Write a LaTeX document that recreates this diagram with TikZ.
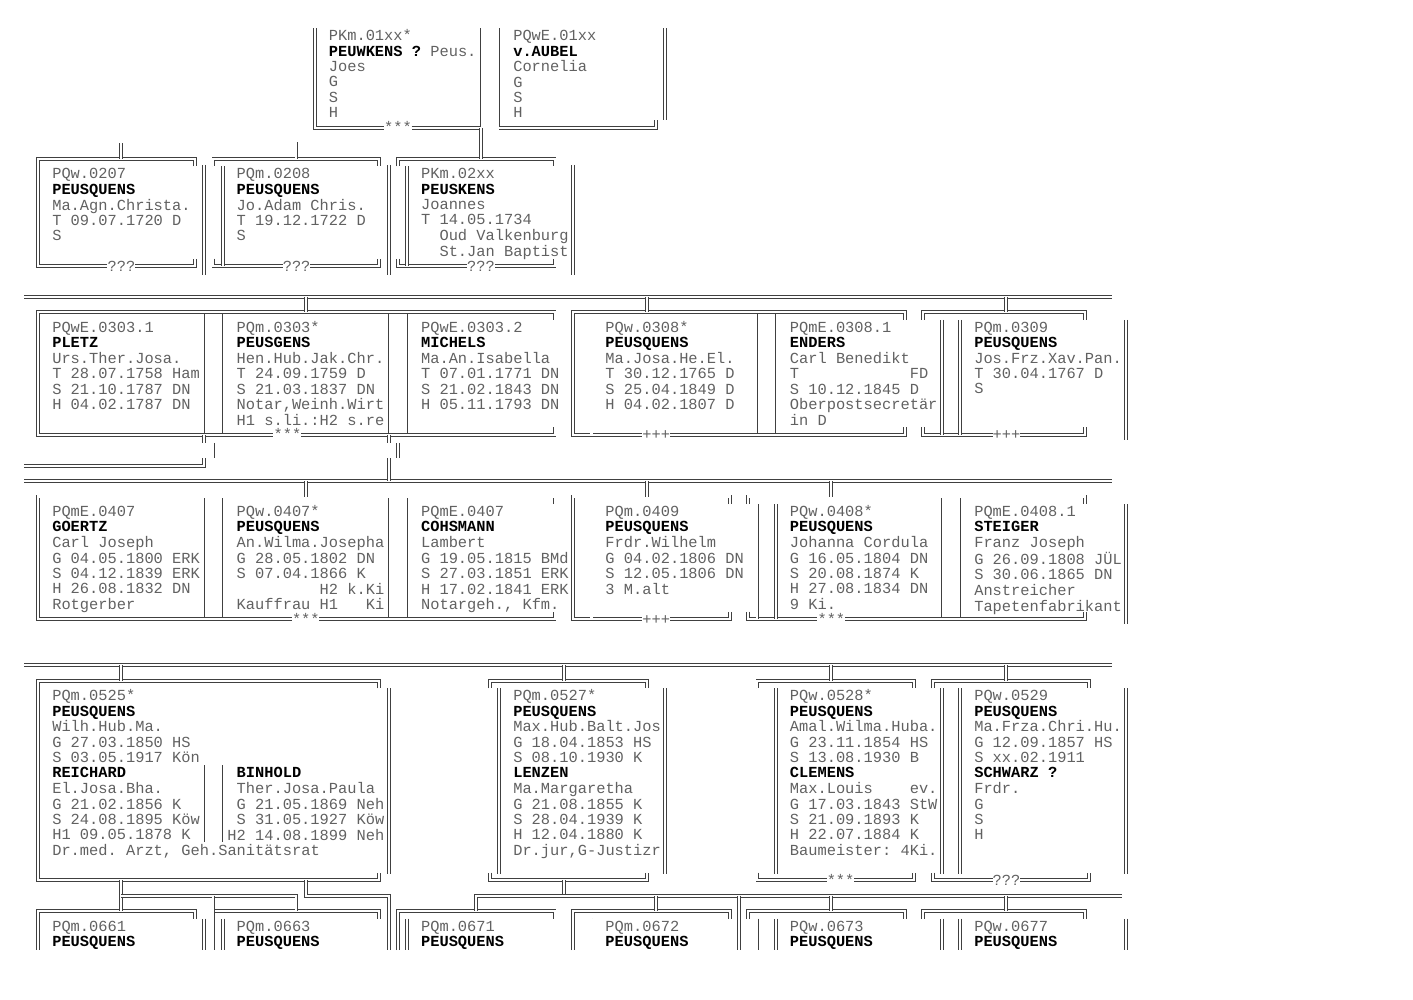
\documentclass[tikz,border=0pt]{standalone}
\usepackage{fontspec}
\newfontfamily\liberationmono{Liberation Mono}
\newcommand\pfont{\liberationmono\fontsize{15.37pt}{15.35pt}\selectfont\frenchspacing}
\newcommand\nm[1]{\textcolor{black}{\bfseries #1}}
\newcommand\pb[1]{\begin{tabular}[t]{@{}l@{}}#1\end{tabular}}

\begin{document}
\begin{tikzpicture}[x=9.22pt, y=-15.35pt,
    dl/.style={draw=black!75, line width=0.85pt, double=white, double distance=2.1pt},
    sl/.style={draw=black!75, line width=0.85pt},
    pers/.style={inner sep=0pt, anchor=base west, font=\pfont, text=black!62},
    tagtxt/.style={inner sep=0pt, anchor=base west, font=\pfont, text=black!62}]

\useasboundingbox (-2.149,-1.345) rectangle (151.105,63.801);

% ---------- top couple
\node[pers] (pk01) at (33.5,1.31) {\pb{PKm.01xx*\\\nm{PEUWKENS ?}~Peus.\\Joes\\G\\S\\H}};
\node[pers] (pq01) at (53.5,1.31) {\pb{PQwE.01xx\\\nm{v.AUBEL}\\Cornelia\\G\\S\\H}};
\draw[dl] (32,0.5) -- (32,7) -- (39.5,7);
\draw[dl] (42.5,7) -- (50,7);
\node[tagtxt] (mk01) at (39.5,7.31) {***};
\draw[sl] (50,0.5) -- (50,6.88);
\draw[sl] (52,0.5) -- (52,6.88);
\draw[dl] (52,7) -- (69,7) -- (69,6.5);
\draw[dl] (70,0.5) -- (70,6.5);

% ---------- generation 02
\node[pers] (pq0207) at (3.5,10.31) {\pb{PQw.0207\\\nm{PEUSQUENS}\\Ma.Agn.Christa.\\T 09.07.1720 D\\S}};
\node[pers] (pq0208) at (23.5,10.31) {\pb{PQm.0208\\\nm{PEUSQUENS}\\Jo.Adam Chris.\\T 19.12.1722 D\\S}};
\node[pers] (pk02) at (43.5,10.31) {\pb{PKm.02xx\\\nm{PEUSKENS}\\Joannes\\T 14.05.1734\\~~Oud Valkenburg\\~~St.Jan Baptist}};

\draw[dl] (19,9.5) -- (19,9) -- (2,9) -- (2,16) -- (9.5,16);
\draw[dl] (12.5,16) -- (19,16) -- (19,15.5);
\node[tagtxt] (mk0207) at (9.5,16.31) {???};
\draw[dl] (20,9.4) -- (20,16.6);

\draw[dl] (21,9.5) -- (21,9) -- (39,9) -- (39,9.5);
\draw[dl] (21,15.5) -- (21,16) -- (28.5,16);
\draw[dl] (31.5,16) -- (39,16) -- (39,15.5);
\node[tagtxt] (mk0208) at (28.5,16.31) {???};
\draw[dl] (22,9.5) -- (22,16);
\draw[dl] (40,9.4) -- (40,16.6);

\draw[dl] (41,9.5) -- (41,9) -- (58,9) -- (58,9.5);
\draw[dl] (41,15.5) -- (41,16) -- (48.5,16);
\draw[dl] (51.5,16) -- (58,16) -- (58,15.5);
\node[tagtxt] (mk02) at (48.5,16.31) {???};
\draw[dl] (42,9.5) -- (42,16);
\draw[dl] (60,9.4) -- (60,16.6);

\coordinate (sib02) at (0.5,8);
\coordinate (in0207) at (11,9);
\coordinate (in0208) at (30,9);
\coordinate (out01) at (50,7);
\coordinate (in02) at (50,9);
\draw[dl] (sib02) -- (30,8) -- (in0208);
\draw[dl] (11,8) -- (in0207);
\draw[dl] (out01) -- (in02);

% ---------- generation 03
\draw[dl] (0.5,18) -- (118.5,18);
\node[pers] (pq0303a) at (3.5,20.31) {\pb{PQwE.0303.1\\\nm{PLETZ}\\Urs.Ther.Josa.\\T 28.07.1758 Ham\\S 21.10.1787 DN\\H 04.02.1787 DN}};
\node[pers] (pq0303) at (23.5,20.31) {\pb{PQm.0303*\\\nm{PEUSGENS}\\Hen.Hub.Jak.Chr.\\T 24.09.1759 D\\S 21.03.1837 DN\\Notar,Weinh.Wirt\\H1 s.li.:H2 s.re}};
\node[pers] (pq0303b) at (43.5,20.31) {\pb{PQwE.0303.2\\\nm{MICHELS}\\Ma.An.Isabella\\T 07.01.1771 DN\\S 21.02.1843 DN\\H 05.11.1793 DN}};
\node[pers] (pq0308) at (63.5,20.31) {\pb{PQw.0308*\\\nm{PEUSQUENS}\\Ma.Josa.He.El.\\T 30.12.1765 D\\S 25.04.1849 D\\H 04.02.1807 D}};
\node[pers] (pq0308a) at (83.5,20.31) {\pb{PQmE.0308.1\\\nm{ENDERS}\\Carl Benedikt\\T~~~~~~~~~~~~FD\\S 10.12.1845 D\\Oberpostsecretär\\in D}};
\node[pers] (pq0309) at (103.5,20.31) {\pb{PQm.0309\\\nm{PEUSQUENS}\\Jos.Frz.Xav.Pan.\\T 30.04.1767 D\\S}};

\draw[dl] (58,19.5) -- (58,19) -- (2,19) -- (2,27) -- (27.5,27);
\draw[dl] (30.5,27) -- (58,27) -- (58,26.5);
\node[tagtxt] (mk0303) at (27.5,27.31) {***};
\draw[sl] (20,19.12) -- (20,26.88);
\draw[sl] (22,19.12) -- (22,26.88);
\draw[sl] (40,19.12) -- (40,26.88);
\draw[sl] (42,19.12) -- (42,26.88);

\draw[dl] (96,19.5) -- (96,19) -- (60,19) -- (60,27) -- (67.5,27);
\draw[dl] (70.5,27) -- (96,27) -- (96,26.5);
\node[tagtxt] (mk0308) at (67.5,27.31) {+++};
\draw[dl] (62,19.5) -- (62,27);
\draw[sl] (80,19.12) -- (80,26.88);
\draw[sl] (82,19.12) -- (82,26.88);

\draw[dl] (98,19.5) -- (98,19) -- (115.5,19) -- (115.5,19.5);
\draw[dl] (98,26.5) -- (98,27) -- (105.5,27);
\draw[dl] (108.5,27) -- (115.5,27) -- (115.5,26.5);
\node[tagtxt] (mk0309) at (105.5,27.31) {+++};
\draw[dl] (100,19.5) -- (100,27);
\draw[dl] (102,19.5) -- (102,27);
\draw[dl] (120,19.5) -- (120,27.3);

\coordinate (in0303) at (31,19);
\coordinate (in0308) at (68,19);
\coordinate (in0309) at (107,19);
\draw[dl] (31,18) -- (in0303);
\draw[dl] (68,18) -- (in0308);
\draw[dl] (107,18) -- (in0309);

% connectors down from 0303
\coordinate (out0303a) at (20,27);
\coordinate (out0303b) at (40,27);
\draw[dl] (out0303a) -- (20,27.5);
\draw[dl] (21,27.5) -- (21,28.5);
\draw[dl] (0.5,29) -- (20,29) -- (20,28.5);
\draw[dl] (out0303b) -- (40,27.5);
\draw[dl] (41,27.5) -- (41,28.5);
\draw[dl] (0.5,30) -- (118.5,30);
\draw[dl] (40,28.5) -- (40,30);

% ---------- generation 04
\node[pers] (pq0407a) at (3.5,32.31) {\pb{PQmE.0407\\\nm{GOERTZ}\\Carl Joseph\\G 04.05.1800 ERK\\S 04.12.1839 ERK\\H 26.08.1832 DN\\Rotgerber}};
\node[pers] (pq0407) at (23.5,32.31) {\pb{PQw.0407*\\\nm{PEUSQUENS}\\An.Wilma.Josepha\\G 28.05.1802 DN\\S 07.04.1866 K\\~~~~~~~~~H2 k.Ki\\Kauffrau H1~~~Ki}};
\node[pers] (pq0407b) at (43.5,32.31) {\pb{PQmE.0407\\\nm{COHSMANN}\\Lambert\\G 19.05.1815 BMd\\S 27.03.1851 ERK\\H 17.02.1841 ERK\\Notargeh., Kfm.}};
\node[pers] (pq0409) at (63.5,32.31) {\pb{PQm.0409\\\nm{PEUSQUENS}\\Frdr.Wilhelm\\G 04.02.1806 DN\\S 12.05.1806 DN\\3 M.alt}};
\node[pers] (pq0408) at (83.5,32.31) {\pb{PQw.0408*\\\nm{PEUSQUENS}\\Johanna Cordula\\G 16.05.1804 DN\\S 20.08.1874 K\\H 27.08.1834 DN\\9 Ki.}};
\node[pers] (pq0408a) at (103.5,32.31) {\pb{PQmE.0408.1\\\nm{STEIGER}\\Franz Joseph\\G 26.09.1808 JÜL\\S 30.06.1865 DN\\Anstreicher\\Tapetenfabrikant}};

\draw[dl] (58,31.5) -- (58,31) -- (2,31) -- (2,39) -- (29.5,39);
\draw[dl] (32.5,39) -- (58,39) -- (58,38.5);
\node[tagtxt] (mk0407) at (29.5,39.31) {***};
\draw[sl] (20,31.12) -- (20,38.88);
\draw[sl] (22,31.12) -- (22,38.88);
\draw[sl] (40,31.12) -- (40,38.88);
\draw[sl] (42,31.12) -- (42,38.88);

\draw[dl] (77,31.5) -- (77,31) -- (60,31) -- (60,39) -- (67.5,39);
\draw[dl] (70.5,39) -- (77,39) -- (77,38.5);
\node[tagtxt] (mk0409) at (67.5,39.31) {+++};
\draw[dl] (62,31.5) -- (62,39);

\draw[dl] (79,31.5) -- (79,31) -- (115.5,31) -- (115.5,31.5);
\draw[dl] (79,38.5) -- (79,39) -- (86.5,39);
\draw[dl] (89.5,39) -- (115.5,39) -- (115.5,38.5);
\node[tagtxt] (mk0408) at (86.5,39.31) {***};
\draw[dl] (80,31.5) -- (80,39);
\draw[dl] (82,31.5) -- (82,39);
\draw[sl] (100,31.12) -- (100,38.88);
\draw[sl] (102,31.12) -- (102,38.88);
\draw[dl] (120,31.5) -- (120,39.3);

\coordinate (in0407) at (31,31);
\coordinate (in0409) at (68,31);
\coordinate (in0408) at (88,31);
\draw[dl] (31,30) -- (in0407);
\draw[dl] (68,30) -- (in0409);
\draw[dl] (88,30) -- (in0408);

% ---------- generation 05
\draw[dl] (0.5,42) -- (118.5,42);
\node[pers] (pq0525) at (3.5,44.31) {\pb{PQm.0525*\\\nm{PEUSQUENS}\\Wilh.Hub.Ma.\\G 27.03.1850 HS\\S 03.05.1917 Kön\\\nm{REICHARD}\\El.Josa.Bha.\\G 21.02.1856 K\\S 24.08.1895 Köw\\H1 09.05.1878 K\\Dr.med. Arzt, Geh.Sanitätsrat}};
\node[pers] (pq0525b) at (23.5,49.31) {\pb{\nm{BINHOLD}\\Ther.Josa.Paula\\G 21.05.1869 Neh\\S 31.05.1927 Köw\\\hspace*{-9.22pt}H2 14.08.1899 Neh}};
\node[pers] (pq0527) at (53.5,44.31) {\pb{PQm.0527*\\\nm{PEUSQUENS}\\Max.Hub.Balt.Jos\\G 18.04.1853 HS\\S 08.10.1930 K\\\nm{LENZEN}\\Ma.Margaretha\\G 21.08.1855 K\\S 28.04.1939 K\\H 12.04.1880 K\\Dr.jur,G-Justizr}};
\node[pers] (pq0528) at (83.5,44.31) {\pb{PQw.0528*\\\nm{PEUSQUENS}\\Amal.Wilma.Huba.\\G 23.11.1854 HS\\S 13.08.1930 B\\\nm{CLEMENS}\\Max.Louis~~~~ev.\\G 17.03.1843 StW\\S 21.09.1893 K\\H 22.07.1884 K\\Baumeister: 4Ki.}};
\node[pers] (pq0529) at (103.5,44.31) {\pb{PQw.0529\\\nm{PEUSQUENS}\\Ma.Frza.Chri.Hu.\\G 12.09.1857 HS\\S xx.02.1911\\\nm{SCHWARZ ?}\\Frdr.\\G\\S\\H}};

\draw[dl] (39,43.5) -- (39,43) -- (2,43) -- (2,56) -- (39,56) -- (39,55.5);
\draw[dl] (40,43.5) -- (40,55.6);
\draw[sl] (20,48.5) -- (20,53.5);
\draw[sl] (22,48.5) -- (22,53.5);

\draw[dl] (51,43.5) -- (51,43) -- (68,43) -- (68,43.5);
\draw[dl] (51,55.5) -- (51,56) -- (68,56) -- (68,55.5);
\draw[dl] (52,43.5) -- (52,55.6);
\draw[dl] (70,43.5) -- (70,55.6);

\draw[dl] (80,43.5) -- (80,43) -- (97,43) -- (97,43.5);
\draw[dl] (80,55.5) -- (80,56) -- (87.5,56);
\draw[dl] (90.5,56) -- (97,56) -- (97,55.5);
\node[tagtxt] (mk0528) at (87.5,56.31) {***};
\draw[dl] (82,43.5) -- (82,55.6);
\draw[dl] (100,43.5) -- (100,55.6);

\draw[dl] (99,43.5) -- (99,43) -- (116,43) -- (116,43.5);
\draw[dl] (99,55.5) -- (99,56) -- (105.5,56);
\draw[dl] (108.5,56) -- (116,56) -- (116,55.5);
\node[tagtxt] (mk0529) at (105.5,56.31) {???};
\draw[dl] (102,43.5) -- (102,55.6);
\draw[dl] (120,43.5) -- (120,55.6);

\coordinate (in0525) at (11,43);
\coordinate (in0527) at (59,43);
\coordinate (in0528) at (88,43);
\coordinate (in0529) at (107,43);
\draw[dl] (11,42) -- (in0525);
\draw[dl] (59,42) -- (in0527);
\draw[dl] (88,42) -- (in0528);
\draw[dl] (107,42) -- (in0529);

% ---------- generation 06
\node[pers] (pq0661) at (3.5,59.31) {\pb{PQm.0661\\\nm{PEUSQUENS}}};
\node[pers] (pq0663) at (23.5,59.31) {\pb{PQm.0663\\\nm{PEUSQUENS}}};
\node[pers] (pq0671) at (43.5,59.31) {\pb{PQm.0671\\\nm{PEUSQUENS}}};
\node[pers] (pq0672) at (63.5,59.31) {\pb{PQm.0672\\\nm{PEUSQUENS}}};
\node[pers] (pq0673) at (83.5,59.31) {\pb{PQw.0673\\\nm{PEUSQUENS}}};
\node[pers] (pq0677) at (103.5,59.31) {\pb{PQw.0677\\\nm{PEUSQUENS}}};

\draw[dl] (19,58.5) -- (19,58) -- (2,58) -- (2,60.55);
\draw[dl] (20,58.5) -- (20,60.55);
\draw[dl] (21,58) -- (39,58) -- (39,58.5);
\draw[dl] (22,58.5) -- (22,60.55);
\draw[dl] (41,60.55) -- (41,58) -- (58,58) -- (58,58.5);
\draw[dl] (42,58.5) -- (42,60.55);
\draw[dl] (60,60.55) -- (60,58) -- (77,58) -- (77,58.5);
\draw[dl] (62,58.5) -- (62,60.55);
\draw[dl] (79,58.5) -- (79,58) -- (96,58) -- (96,58.5);
\draw[dl] (80,58.5) -- (80,60.55);
\draw[dl] (82,58.5) -- (82,60.55);
\draw[dl] (98,58.5) -- (98,58) -- (115.5,58) -- (115.5,58.5);
\draw[dl] (100,58.5) -- (100,60.55);
\draw[dl] (102,58.5) -- (102,60.55);
\draw[dl] (120,58.5) -- (120,60.55);

\coordinate (out0525a) at (11,56);
\coordinate (out0525b) at (31,56);
\coordinate (out0527) at (59,56);
\coordinate (in0661) at (11,58);
\coordinate (in0663) at (30,58);
\coordinate (in0671) at (49.5,58);
\draw[dl] (out0525a) -- (in0661);
\draw[dl] (11,57) -- (30,57) -- (in0663);
\draw[dl] (21,57) -- (21,60.55);
\draw[dl] (out0525b) -- (31,57) -- (40,57) -- (40,60.55);
\draw[dl] (out0527) -- (59,57);
\draw[dl] (in0671) -- (49.5,57) -- (119.5,57);
\draw[dl] (69,57) -- (69,58);
\draw[dl] (78,57) -- (78,60.55);
\draw[dl] (88,57) -- (88,58);
\draw[dl] (107,57) -- (107,58);

\end{tikzpicture}
\end{document}
